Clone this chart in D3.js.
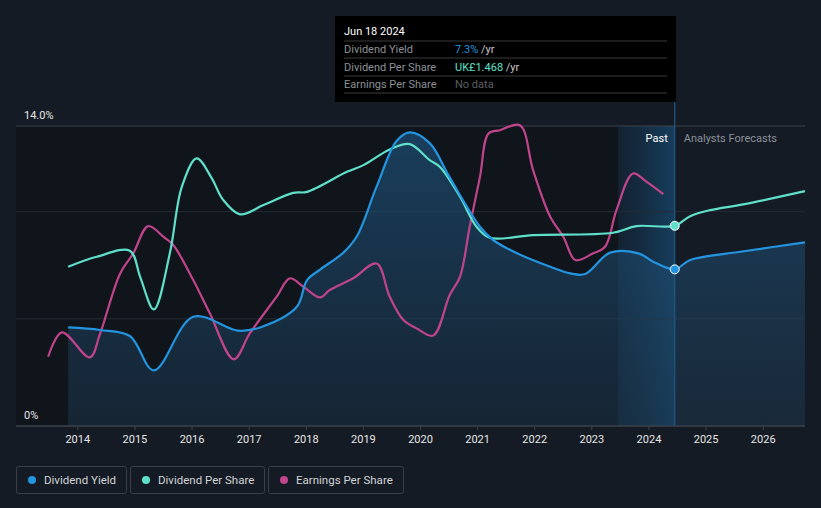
<!DOCTYPE html>
<html><head><meta charset="utf-8">
<script src="https://cdn.jsdelivr.net/npm/d3@7"></script>
<style>
html,body{margin:0;padding:0;background:#151b24;}
svg{display:block;font-family:Roboto,"Noto Sans",sans-serif;}
</style></head>
<body>
<svg id="chart" width="821" height="508"></svg>
<script>
// ---- data ----
const years = [2014,2015,2016,2017,2018,2019,2020,2021,2022,2023,2024,2025,2026];
const yieldTicks = [0,5,10,14];
const yieldTickLabels = ["0%","","","14.0%"];
const seriesNames = ["Dividend Yield","Dividend Per Share","Earnings Per Share"];
// Dividend yield (%)
const dividendYield = [
 [2013.84,4.6],[2014.4,4.48],[2014.92,4.2],[2015.34,2.6],[2016.03,5.1],[2016.81,4.45],[2017.2,4.6],
 [2017.84,5.55],[2018.02,6.8],[2018.25,7.3],[2018.65,8.07],[2018.89,8.83],[2019.24,11.17],[2019.59,13.3],
 [2019.82,13.7],[2020.17,13.2],[2020.52,11.6],[2021.05,9.3],[2021.28,8.68],[2021.69,8.07],[2022.28,7.43],
 [2022.63,7.12],[2022.89,7.09],[2023.33,8.09],[2023.85,8.03],[2024.08,7.67],[2024.46,7.31],
 [2024.73,7.75],[2025.61,8.13],[2026.74,8.57]
];
// Dividend per share (UK£)
const dividendPerShare = [
 [2013.84,1.168],[2014.34,1.241],[2014.92,1.285],[2015.1,1.094],[2015.34,0.855],[2015.62,1.266],[2015.83,1.754],
 [2016.09,1.962],[2016.35,1.820],[2016.55,1.660],[2016.85,1.552],[2017.26,1.620],[2017.78,1.710],[2018.02,1.717],
 [2018.72,1.864],[2019.01,1.913],[2019.47,2.028],[2019.82,2.067],[2020.17,1.950],[2020.35,1.900],
 [2020.70,1.681],[2020.99,1.461],[2021.22,1.380],[2021.98,1.400],[2023.38,1.417],[2023.79,1.466],
 [2024.46,1.468],[2024.73,1.539],[2025.08,1.583],[2025.66,1.625],[2026.74,1.722]
];
// Earnings per share (UK£)
const earningsPerShare = [
 [2013.49,0.508],[2013.73,0.687],[2014.22,0.503],[2014.40,0.679],[2014.75,1.119],[2014.98,1.266],
 [2015.24,1.466],[2015.51,1.387],[2015.68,1.327],[2016.03,1.070],[2016.32,0.826],[2016.74,0.489],
 [2017.02,0.679],[2017.49,0.948],[2017.72,1.083],[2017.96,1.021],[2018.25,0.943],[2018.42,0.997],
 [2018.83,1.083],[2019.24,1.192],[2019.47,0.948],[2019.71,0.777],[2019.94,0.716],[2020.23,0.663],
 [2020.52,0.960],[2020.70,1.094],[2020.87,1.461],[2021.05,1.827],[2021.20,2.145],[2021.40,2.169],
 [2021.75,2.206],[2021.98,1.876],[2022.28,1.534],[2022.51,1.387],[2022.72,1.217],[2023.03,1.266],
 [2023.24,1.314],[2023.44,1.583],[2023.73,1.852],[2023.97,1.790],[2024.26,1.700]
];
const todayYear = 2024.46;
const pastStartYear = 2023.47;
const tooltipDate = "Jun 18 2024";
const tooltipRows = [
 {label:"Dividend Yield", value:"7.3%", unit:" /yr"},
 {label:"Dividend Per Share", value:"UK£1.468", unit:" /yr"},
 {label:"Earnings Per Share", value:"No data", unit:""}
];
const colors = ["#2394df","#5fe0cb","#c0448b"];

// ---- layout ----
const svg = d3.select("#chart");
const pLeft = 16, pRight = 805, pTop = 126, pBottom = 426;
const x = d3.scaleLinear().domain([2014,2026]).range([77.3,762.7]);
const y = d3.scaleLinear().domain([0,14]).range([pBottom,pTop]);
const yGBP = d3.scaleLinear().domain([0,2.2]).range([pBottom,pTop]);
const curve = d3.curveCatmullRom.alpha(0.5);

const defs = svg.append("defs");
const ag = defs.append("linearGradient").attr("id","areaGrad").attr("x1",0).attr("x2",0).attr("y1",0).attr("y2",1);
ag.append("stop").attr("offset","0%").attr("stop-color","#1f5a88").attr("stop-opacity",0.6);
ag.append("stop").attr("offset","100%").attr("stop-color","#1d3a52").attr("stop-opacity",0.45);
const pg = defs.append("linearGradient").attr("id","pastGrad").attr("x1",0).attr("x2",1).attr("y1",0).attr("y2",0);
pg.append("stop").attr("offset","0%").attr("stop-color","#1a4466").attr("stop-opacity",0.3);
pg.append("stop").attr("offset","100%").attr("stop-color","#1b5a8a").attr("stop-opacity",0.6);

// past background (darker)
svg.append("rect").attr("x",pLeft).attr("y",pTop).attr("width",x(todayYear)-pLeft).attr("height",pBottom-pTop).attr("fill","#10141b");
// past highlight
svg.append("rect").attr("x",x(pastStartYear)).attr("y",pTop).attr("width",x(todayYear)-x(pastStartYear)).attr("height",pBottom-pTop).attr("fill","url(#pastGrad)");

// gridlines
yieldTicks.forEach(t=>{
  svg.append("line").attr("x1",pLeft).attr("x2",pRight).attr("y1",y(t)).attr("y2",y(t))
    .attr("stroke", t===14 ? "#3c424c" : (t===0 ? "#3d434d" : "#252b34")).attr("stroke-width", 1);
});
yieldTicks.forEach((t,i)=>{
  if(yieldTickLabels[i]) svg.append("text").attr("x",24).attr("y",y(t)-7).attr("fill","#e6e6e6")
    .attr("font-size",11).text(yieldTickLabels[i]);
});

// area under dividend yield
const areaGen = d3.area().x(d=>x(d[0])).y0(pBottom).y1(d=>y(d[1])).curve(curve);
svg.append("path").datum(dividendYield).attr("d",areaGen).attr("fill","url(#areaGrad)");

// today line
svg.append("line").attr("x1",x(todayYear)).attr("x2",x(todayYear)).attr("y1",101).attr("y2",pBottom)
  .attr("stroke","#1d5a86").attr("stroke-width",1.2);

// x axis
const xAxis = d3.axisBottom(x).tickValues(years).tickFormat(d3.format("d")).tickSize(4).tickPadding(5);
const ax = svg.append("g").attr("transform",`translate(0,${pBottom})`).call(xAxis);
ax.select(".domain").remove();
ax.selectAll(".tick line").attr("stroke","#3d434d");
ax.selectAll(".tick text").attr("fill","#e6e6e6").attr("font-size",11).attr("font-family","Roboto,sans-serif");
svg.append("line").attr("x1",pLeft).attr("x2",pRight).attr("y1",pBottom).attr("y2",pBottom).attr("stroke","#3d434d");

// lines
const lineY = d3.line().x(d=>x(d[0])).y(d=>y(d[1])).curve(curve);
const lineG = d3.line().x(d=>x(d[0])).y(d=>yGBP(d[1])).curve(curve);
svg.append("path").datum(earningsPerShare).attr("d",lineG).attr("fill","none").attr("stroke",colors[2]).attr("stroke-width",2.2);
svg.append("path").datum(dividendPerShare).attr("d",lineG).attr("fill","none").attr("stroke",colors[1]).attr("stroke-width",2.2);
svg.append("path").datum(dividendYield).attr("d",lineY).attr("fill","none").attr("stroke",colors[0]).attr("stroke-width",2.2);

// markers
svg.append("circle").attr("cx",x(todayYear)).attr("cy",yGBP(1.468)).attr("r",4.5).attr("fill",colors[1]).attr("stroke","#fff").attr("stroke-width",1);
svg.append("circle").attr("cx",x(todayYear)).attr("cy",y(7.31)).attr("r",4.5).attr("fill",colors[0]).attr("stroke","#fff").attr("stroke-width",1);

// Past / forecast labels
svg.append("text").attr("x",x(todayYear)-7).attr("y",142).attr("text-anchor","end").attr("fill","#ffffff").attr("font-size",11).text("Past");
svg.append("text").attr("x",x(todayYear)+9).attr("y",142).attr("fill","#8a9098").attr("font-size",11).text("Analysts Forecasts");

// tooltip
const tt = svg.append("g");
tt.append("rect").attr("x",335).attr("y",16).attr("width",341).attr("height",86).attr("fill","#000");
tt.append("text").attr("x",344).attr("y",35).attr("fill","#fff").attr("font-size",11).text(tooltipDate);
[41,58,76,93].forEach(yy=>tt.append("line").attr("x1",344).attr("x2",667).attr("y1",yy).attr("y2",yy).attr("stroke","#3a3a3a"));
const valColors = [colors[0],colors[1],"#5b5f63"];
tooltipRows.forEach((r,i)=>{
  const by = 53 + i*17.5;
  tt.append("text").attr("x",344).attr("y",by).attr("fill","#8c9096").attr("font-size",11).text(r.label);
  const t = tt.append("text").attr("x",455).attr("y",by).attr("font-size",11);
  t.append("tspan").attr("fill",valColors[i]).text(r.value);
  if(r.unit) t.append("tspan").attr("fill","#c8c8c8").text(r.unit);
});

// legend
const legendBoxes = [[16,110],[130,134],[268,135]];
seriesNames.forEach((n,i)=>{
  const [lx,lw] = legendBoxes[i];
  svg.append("rect").attr("x",lx+0.5).attr("y",466.5).attr("width",lw).attr("height",27).attr("rx",2)
    .attr("fill","none").attr("stroke","#3a3f48");
  svg.append("circle").attr("cx",lx+16).attr("cy",480).attr("r",4).attr("fill",colors[i]);
  svg.append("text").attr("x",lx+28).attr("y",484).attr("fill","#d2d4d7").attr("font-size",11.5).text(n);
});
</script>
</body></html>
